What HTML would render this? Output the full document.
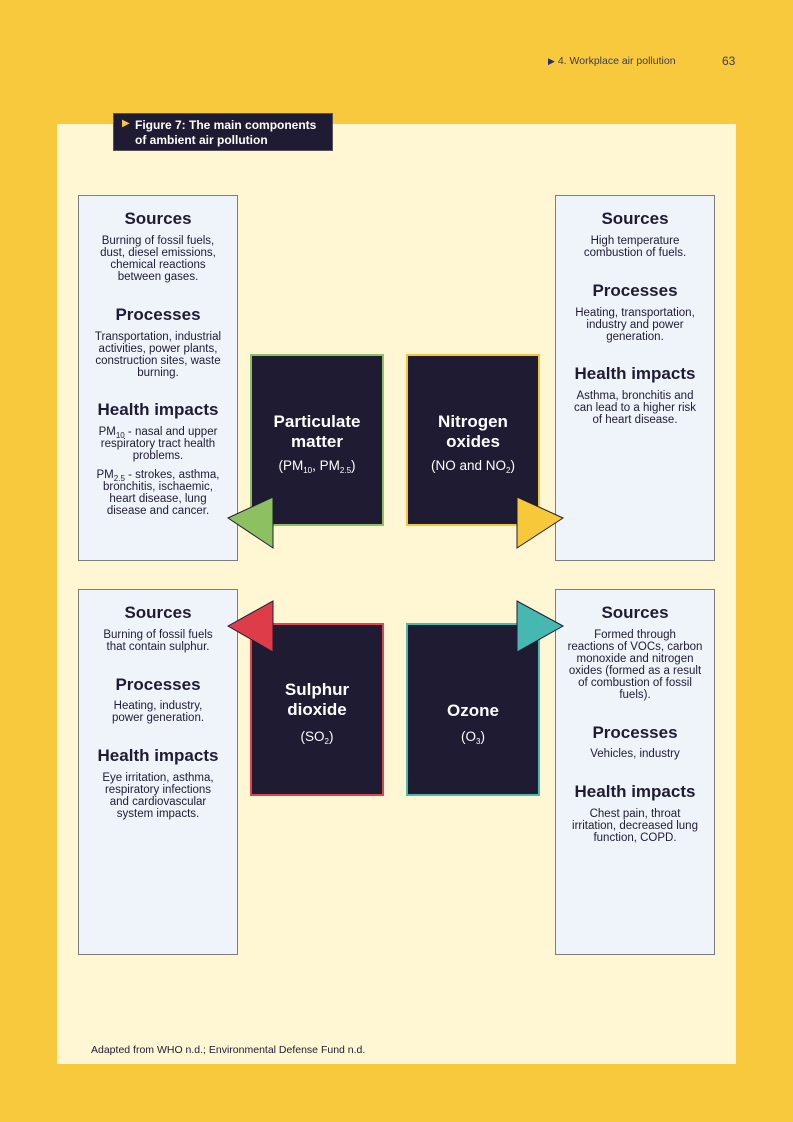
<!DOCTYPE html>
<html><head><meta charset="utf-8"><style>
*{margin:0;padding:0;box-sizing:border-box}
body{width:793px;height:1122px;background:#f8c93c;position:relative;overflow:hidden;font-family:"Liberation Sans",sans-serif;color:#1f1b33}
.abs{position:absolute}
.panel{left:57px;top:124px;width:679px;height:940px;background:#fff6d3}
.side{background:#eef4f9;border:1px solid #7d7d7d}
.dark{background:#1f1b33;border:2px solid}
.t{position:absolute;text-align:center;white-space:nowrap}
.h{font-weight:bold;font-size:17px;line-height:20px}
.b{font-size:11.5px;line-height:12px}
.w{color:#fff}
.dt{font-weight:bold;font-size:17px;line-height:20px}
.ds{font-size:13.5px;line-height:16px}
sub{font-size:8px;vertical-align:-3px;line-height:0}
</style></head><body>
<div class="abs" style="left:548px;top:55px;font-size:10.5px;color:#3b3b55"><span style="color:#2a2e6e;font-size:9px">&#9654;</span> 4. Workplace air pollution</div>
<div class="abs" style="left:722px;top:54px;font-size:12px;color:#3b3b55">63</div>
<div class="abs panel"></div>
<div class="abs" style="left:113px;top:113px;width:220px;height:38px;background:#1f1b33;border:1px solid #555"></div>
<div class="abs" style="left:122px;top:118px;color:#f8c93c;font-size:10px">&#9654;</div>
<div class="abs" style="left:135px;top:118px;color:#fff;font-weight:bold;font-size:12px;line-height:15px">Figure 7: The main components<br>of ambient air pollution</div>

<div class="abs side" style="left:78px;top:195px;width:160px;height:366px"></div>
<div class="abs side" style="left:555px;top:195px;width:160px;height:366px"></div>
<div class="abs side" style="left:78px;top:589px;width:160px;height:366px"></div>
<div class="abs side" style="left:555px;top:589px;width:160px;height:366px"></div>

<div class="abs dark" style="left:250px;top:354px;width:134px;height:172px;border-color:#8dc060"></div>
<div class="abs dark" style="left:406px;top:354px;width:134px;height:172px;border-color:#f2c53a"></div>
<div class="abs dark" style="left:250px;top:623px;width:134px;height:173px;border-color:#e0444f"></div>
<div class="abs dark" style="left:406px;top:623px;width:134px;height:173px;border-color:#4cb8b2"></div>

<svg class="abs" style="left:0;top:0" width="793" height="1122">
<polygon points="228,518 273,497 273,548" fill="#8dc060" stroke="#1f1b33" stroke-width="1"/>
<polygon points="563,518 517,497 517,548" fill="#f6c83a" stroke="#1f1b33" stroke-width="1"/>
<polygon points="228,626 273,601 273,652" fill="#df3c4a" stroke="#1f1b33" stroke-width="1"/>
<polygon points="563,626 517,601 517,652" fill="#47b7b2" stroke="#1f1b33" stroke-width="1"/>
</svg>

<div class="t h" style="left:78px;width:160px;top:209px">Sources</div>
<div class="t b" style="left:78px;width:160px;top:235px">Burning of fossil fuels,<br>dust, diesel emissions,<br>chemical reactions<br>between gases.</div>
<div class="t h" style="left:78px;width:160px;top:305px">Processes</div>
<div class="t b" style="left:78px;width:160px;top:331px">Transportation, industrial<br>activities, power plants,<br>construction sites, waste<br>burning.</div>
<div class="t h" style="left:78px;width:160px;top:400px">Health impacts</div>
<div class="t b" style="left:78px;width:160px;top:426px">PM<sub>10</sub> - nasal and upper<br>respiratory tract health<br>problems.</div>
<div class="t b" style="left:78px;width:160px;top:469px">PM<sub>2.5</sub> - strokes, asthma,<br>bronchitis, ischaemic,<br>heart disease, lung<br>disease and cancer.</div>

<div class="t h" style="left:555px;width:160px;top:209px">Sources</div>
<div class="t b" style="left:555px;width:160px;top:235px">High temperature<br>combustion of fuels.</div>
<div class="t h" style="left:555px;width:160px;top:281px">Processes</div>
<div class="t b" style="left:555px;width:160px;top:307px">Heating, transportation,<br>industry and power<br>generation.</div>
<div class="t h" style="left:555px;width:160px;top:364px">Health impacts</div>
<div class="t b" style="left:555px;width:160px;top:390px">Asthma, bronchitis and<br>can lead to a higher risk<br>of heart disease.</div>

<div class="t h" style="left:78px;width:160px;top:603px">Sources</div>
<div class="t b" style="left:78px;width:160px;top:629px">Burning of fossil fuels<br>that contain sulphur.</div>
<div class="t h" style="left:78px;width:160px;top:675px">Processes</div>
<div class="t b" style="left:78px;width:160px;top:700px">Heating, industry,<br>power generation.</div>
<div class="t h" style="left:78px;width:160px;top:746px">Health impacts</div>
<div class="t b" style="left:78px;width:160px;top:772px">Eye irritation, asthma,<br>respiratory infections<br>and cardiovascular<br>system impacts.</div>

<div class="t h" style="left:555px;width:160px;top:603px">Sources</div>
<div class="t b" style="left:555px;width:160px;top:629px">Formed through<br>reactions of VOCs, carbon<br>monoxide and nitrogen<br>oxides (formed as a result<br>of combustion of fossil<br>fuels).</div>
<div class="t h" style="left:555px;width:160px;top:723px">Processes</div>
<div class="t b" style="left:555px;width:160px;top:748px">Vehicles, industry</div>
<div class="t h" style="left:555px;width:160px;top:782px">Health impacts</div>
<div class="t b" style="left:555px;width:160px;top:808px">Chest pain, throat<br>irritation, decreased lung<br>function, COPD.</div>

<div class="t w dt" style="left:250px;width:134px;top:412px">Particulate<br>matter</div>
<div class="t w ds" style="left:250px;width:134px;top:458px">(PM<sub>10</sub>, PM<sub>2.5</sub>)</div>
<div class="t w dt" style="left:406px;width:134px;top:412px">Nitrogen<br>oxides</div>
<div class="t w ds" style="left:406px;width:134px;top:458px">(NO and NO<sub>2</sub>)</div>
<div class="t w dt" style="left:250px;width:134px;top:680px">Sulphur<br>dioxide</div>
<div class="t w ds" style="left:250px;width:134px;top:729px">(SO<sub>2</sub>)</div>
<div class="t w dt" style="left:406px;width:134px;top:701px">Ozone</div>
<div class="t w ds" style="left:406px;width:134px;top:729px">(O<sub>3</sub>)</div>

<div class="abs" style="left:91px;top:1044px;font-size:10.5px">Adapted from WHO n.d.; Environmental Defense Fund n.d.</div>
</body></html>
